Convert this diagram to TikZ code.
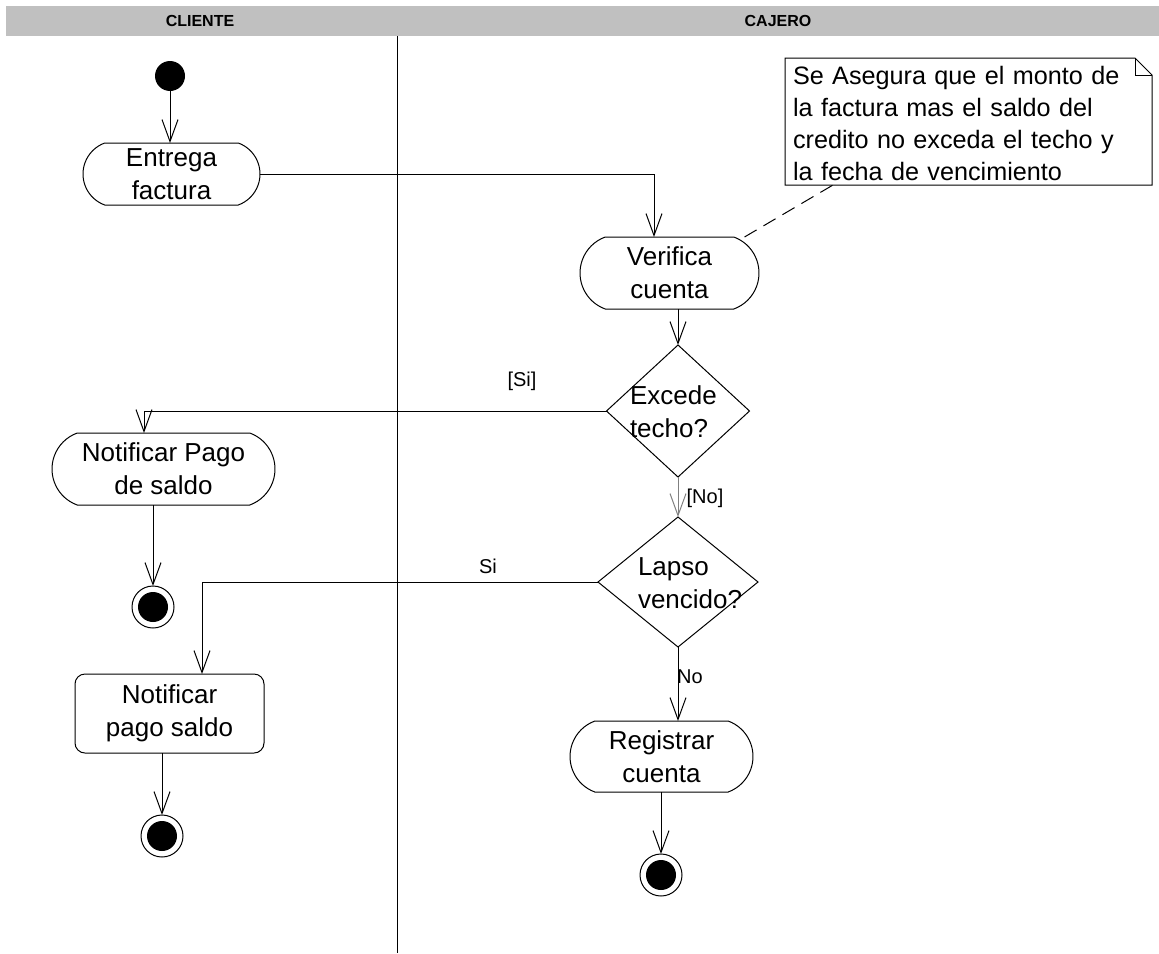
\documentclass[tikz,border=0pt]{standalone}
\usepackage{fontspec}
\setmainfont{Liberation Sans}
\usetikzlibrary{arrows.meta,shapes.misc,shapes.geometric,calc}
\definecolor{lanegray}{RGB}{192,192,192}
\definecolor{flowgray}{RGB}{128,128,128}

\begin{document}
\begin{tikzpicture}[x=0.5pt,y=-0.5pt,
  line width=0.5pt,
  every node/.style={font=\fontsize{13}{16.5}\selectfont, inner sep=0pt, outer sep=0pt},
  flow/.style={-{Straight Barb[length=11pt,width=8pt]}},
  actbox/.style={draw, rounded rectangle, rounded rectangle arc length=140, align=center},
  decision/.style={draw, diamond},
  startnode/.style={circle, fill=black, minimum size=15pt},
  finalnode/.style={circle, draw, minimum size=21pt,
    path picture={\fill (path picture bounding box.center) circle[radius=7.5pt];}},
  lanehead/.style={font=\fontsize{8}{9.6}\selectfont\bfseries},
  guard/.style={font=\fontsize{10}{12}\selectfont},
  condtext/.style={align=left, anchor=west}]

\useasboundingbox (0,0) rectangle (1159,953);

% swimlane header and divider
\fill[lanegray] (6,6) rectangle (1159,36);
\node[lanehead] (hcliente) at (200,21) {CLIENTE};
\node[lanehead] (hcajero) at (778,21) {CAJERO};
\draw (397,36) -- (397,953);

% activities
\node[startnode] (start) at (170,76) {};
\node[actbox, minimum width=88.5pt, minimum height=31pt] (entrega) at (171.5,174) {Entrega\\factura};
\node[actbox, minimum width=89.5pt, minimum height=36pt] (verifica) at (669.5,273) {Verifica\\cuenta};
\node[decision, minimum width=71.5pt, minimum height=66pt] (excede) at (678,411) {};
\node[condtext] (excedetxt) at (630,411.5) {Excede\\techo?};
\node[decision, minimum width=80pt, minimum height=65pt] (lapso) at (678,582) {};
\node[condtext] (lapsotxt) at (638,583.5) {Lapso\\vencido?};
\node[actbox, minimum width=111.5pt, minimum height=36pt] (notpago) at (163.5,469) {Notificar Pago\\de saldo};
\node[draw, rounded corners=5pt, align=center, minimum width=94.5pt, minimum height=39.5pt] (notpago2) at (169.5,713.5) {Notificar\\pago saldo};
\node[actbox, minimum width=91.5pt, minimum height=35.5pt] (registrar) at (661.5,756.5) {Registrar\\cuenta};
\node[finalnode] (final1) at (153,607) {};
\node[finalnode] (final2) at (162,836) {};
\node[finalnode] (final3) at (661,875) {};

% note
\node[minimum width=183.5pt, minimum height=63.5pt, inner xsep=4pt, text width=175.5pt, align=left,
  font=\fontsize{12.6}{16}\selectfont] (note) at (968.5,121.5)
  {\rule{0pt}{11pt}Se Asegura que el monto de\\la factura mas el saldo del\\credito no exceda el techo y\\la fecha de vencimiento};
\draw (note.south west) -- (note.north west) -- ($(note.north east)+(-17,0)$)
  -- ($(note.north east)+(0,17)$) -- (note.south east) -- cycle;
\draw ($(note.north east)+(-17,0)$) |- ($(note.north east)+(0,17)$);
\draw[dash pattern=on 7pt off 4pt] ($(verifica.north)+(75,0)$) -- ($(note.south west)+(48,0)$);

% transitions
\draw[flow] (start) -- (start |- entrega.north);
\draw[flow] (entrega.east) -| ($(verifica.north)+(-15.5,0)$);
\draw[flow] (excede.north |- verifica.south) -- (excede.north);
\draw[flow] (excede.west) -| ($(notpago.north)+(-19.5,0)$);
\draw[flow, draw=flowgray] (excede.south) -- (lapso.north);
\draw[flow] (lapso.west) -| ($(notpago2.north)+(32.5,0)$);
\draw[flow] (lapso.south) -- (lapso.south |- registrar.north);
\draw[flow] (notpago.south -| final1) -- (final1.north);
\draw[flow] (notpago2.south -| final2) -- (final2.north);
\draw[flow] (registrar.south -| final3) -- (final3.north);

% guards
\node[guard] (gsi1) at (522,381) {[Si]};
\node[guard] (gno1) at (705,498) {[No]};
\node[guard] (gsi2) at (488,566) {Si};
\node[guard] (gno2) at (690,677) {No};
\end{tikzpicture}
\end{document}
